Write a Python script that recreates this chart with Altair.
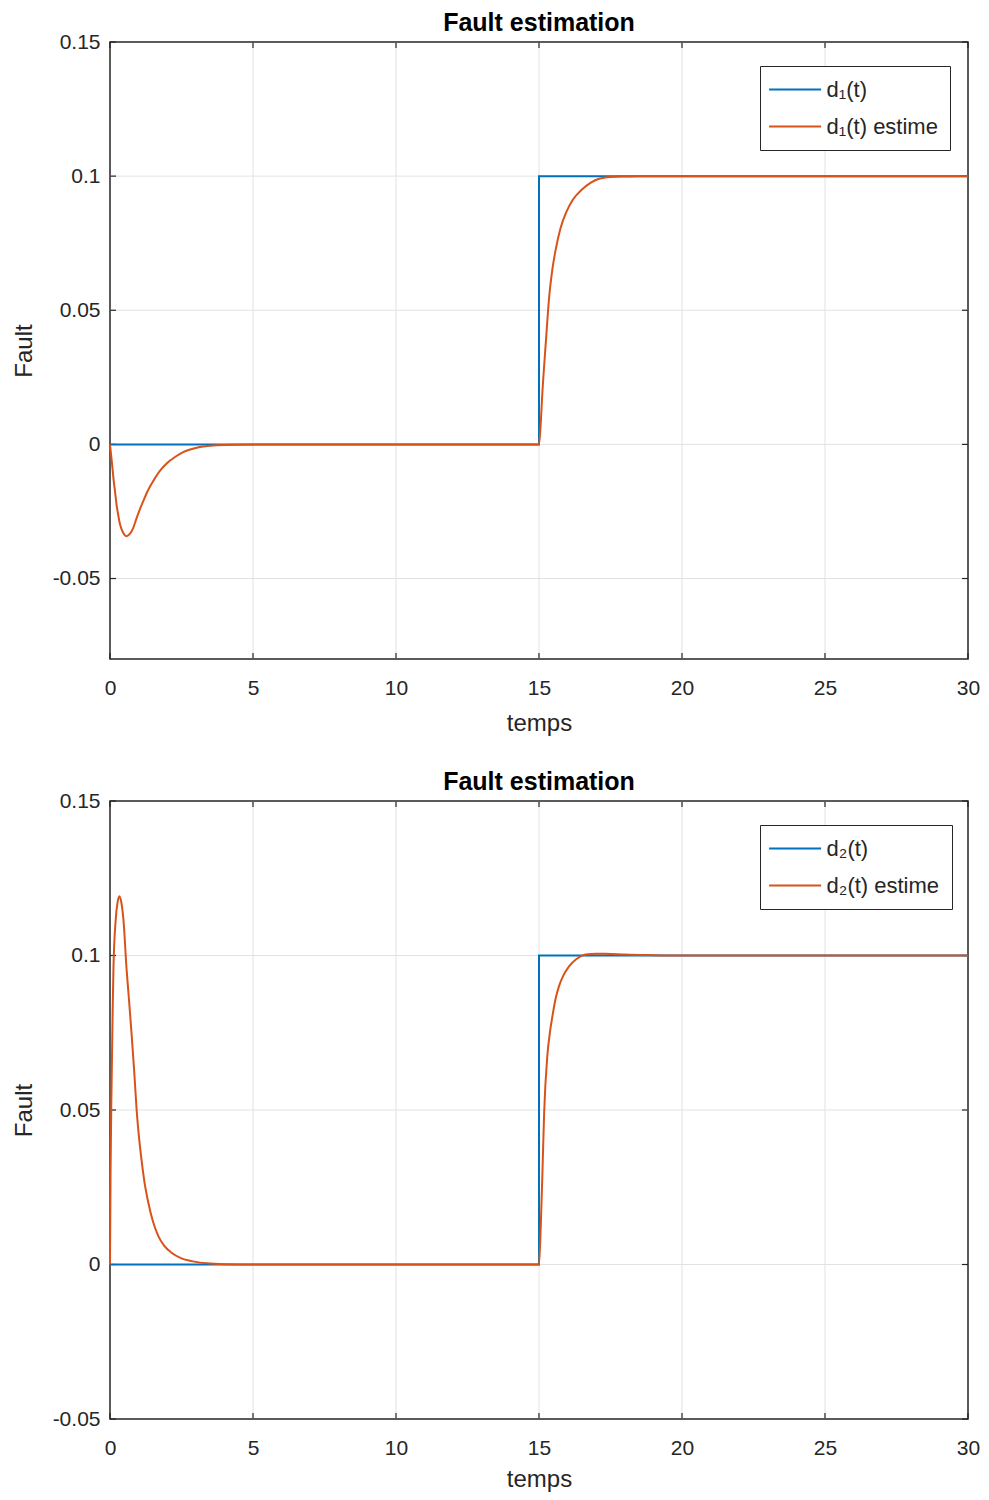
import altair as alt
import pandas as pd

FONT = "Liberation Sans"

# ---- data ----
x_ticks = [0, 5, 10, 15, 20, 25, 30]
y_ticks = [-0.05, 0, 0.05, 0.1, 0.15]
x_domain = [0, 30]
y_domain_top = [-0.08, 0.15]
y_domain_bot = [-0.05, 0.15]

labels_top = ["d\u2081(t)", "d\u2081(t) estime"]
labels_bot = ["d\u2082(t)", "d\u2082(t) estime"]
colors = ["#0072BD", "#D95319"]

t_true1 = [0, 15, 15, 30]
v_true1 = [0, 0, 0.1, 0.1]
t_est1 = [0.0, 0.06, 0.12, 0.18, 0.23, 0.29, 0.35, 0.41, 0.5, 0.58, 0.7, 0.81,
          0.93, 1.05, 1.17, 1.28, 1.4, 1.51, 1.75, 1.98, 2.3, 2.56, 3.14, 3.72,
          5.0, 15.0, 15.05, 15.12, 15.24, 15.35, 15.47, 15.6, 15.75, 15.95, 16.2,
          16.5, 16.8, 17.1, 17.5, 18.0, 18.5, 30.0]
v_est1 = [0.0, -0.006, -0.0126, -0.018, -0.0225, -0.0265, -0.0298, -0.0318,
          -0.0336, -0.0342, -0.0333, -0.0312, -0.0275, -0.024, -0.021, -0.0182,
          -0.0157, -0.0137, -0.0098, -0.0071, -0.0045, -0.0029, -0.001, -0.0003,
          0.0, 0.0, 0.006, 0.0196, 0.0382, 0.0543, 0.0654, 0.0735, 0.0805,
          0.0865, 0.0915, 0.095, 0.0975, 0.099, 0.0997, 0.0999, 0.1, 0.1]

t_true2 = [0, 15, 15, 30]
v_true2 = [0, 0, 0.1, 0.1]
t_est2 = [0.0, 0.02, 0.05, 0.09, 0.12, 0.2, 0.27, 0.33, 0.4, 0.47, 0.58, 0.67,
          0.76, 0.85, 0.93, 1.0, 1.1, 1.2, 1.34, 1.5, 1.69, 1.9, 2.15, 2.5, 2.85,
          3.5, 4.5, 15.0, 15.06, 15.12, 15.18, 15.29, 15.38, 15.47, 15.58, 15.7,
          15.85, 16.05, 16.3, 16.63, 17.0, 17.33, 18.0, 19.0, 20.0, 30.0]
v_est2 = [0.0, 0.03, 0.055, 0.08, 0.0955, 0.1116, 0.1175, 0.1192, 0.117, 0.1116,
          0.0955, 0.085, 0.0739, 0.062, 0.0502, 0.0425, 0.034, 0.027, 0.020, 0.014,
          0.0092, 0.006, 0.0038, 0.002, 0.0011, 0.0003, 0.0, 0.0, 0.012, 0.0297,
          0.0491, 0.0674, 0.075, 0.0804, 0.086, 0.0901, 0.0935, 0.0965, 0.0988,
          0.1003, 0.1006, 0.1006, 0.1003, 0.1001, 0.1, 0.1]

W = 858
TICK = 6
FRAME = "#262626"
GRID = "#e2e2e2"


def panel(t_true, v_true, t_est, v_est, labels, ydom, H, xtitle_pad):
    xs = alt.Scale(domain=x_domain, nice=False, zero=False)
    ys = alt.Scale(domain=ydom, nice=False, zero=False)
    cs = alt.Scale(domain=labels, range=colors)

    df_true = pd.DataFrame({"t": t_true, "v": v_true, "s": labels[0],
                            "i": list(range(len(t_true)))})
    df_est = pd.DataFrame({"t": t_est, "v": v_est, "s": labels[1],
                           "i": list(range(len(t_est)))})

    xt = [v for v in x_ticks if x_domain[0] <= v <= x_domain[1]]
    yt = [v for v in y_ticks if ydom[0] <= v <= ydom[1]]
    xg = pd.DataFrame({"t": [v for v in xt if x_domain[0] < v < x_domain[1]]})
    yg = pd.DataFrame({"v": [v for v in yt if ydom[0] < v < ydom[1]]})
    xtd = pd.DataFrame({"t": xt})
    ytd = pd.DataFrame({"v": yt})

    xaxis = alt.Axis(values=xt, grid=False, ticks=False, domain=False,
                     labelFontSize=21, labelFont=FONT, labelColor=FRAME,
                     labelPadding=18, labelFlush=False,
                     title="temps", titleFont=FONT, titleFontSize=24,
                     titleFontWeight="normal", titleColor=FRAME,
                     titlePadding=xtitle_pad)
    yaxis = alt.Axis(values=yt, grid=False, ticks=False, domain=False,
                     labelFontSize=21, labelFont=FONT, labelColor=FRAME,
                     labelPadding=10, labelFlush=False,
                     labelExpr="'' + datum.value",
                     title="Fault", titleFont=FONT, titleFontSize=24,
                     titleFontWeight="normal", titleColor=FRAME, titlePadding=16)

    X = alt.X("t:Q", scale=xs, title="temps")
    Y = alt.Y("v:Q", scale=ys, title="Fault")

    gx = alt.Chart(xg).mark_rule(color=GRID, strokeWidth=1).encode(x=X)
    gy = alt.Chart(yg).mark_rule(color=GRID, strokeWidth=1).encode(y=Y)

    legend = alt.Legend(title=None, orient="none", legendX=650, legendY=24,
                        symbolType="M-2.5,0H2.5", symbolSize=433,
                        symbolStrokeWidth=2, labelFontSize=22, labelFont=FONT,
                        labelColor=FRAME, padding=12, rowPadding=14,
                        symbolOffset=11.6, labelOffset=20, strokeColor=FRAME,
                        fillColor="white", labelLimit=400)

    true_line = alt.Chart(df_true).mark_line(strokeWidth=2).encode(
        x=alt.X("t:Q", scale=xs, axis=xaxis),
        y=alt.Y("v:Q", scale=ys, axis=yaxis),
        color=alt.Color("s:N", scale=cs, legend=legend),
        order="i:Q",
    )
    est_line = alt.Chart(df_est).mark_line(strokeWidth=2, interpolate="monotone").encode(
        x=X, y=Y,
        color=alt.Color("s:N", scale=cs, legend=legend),
        order="i:Q",
    )

    tb = alt.Chart(xtd).mark_rule(color=FRAME, strokeWidth=1.2).encode(
        x=X, y=alt.value(H), y2=alt.value(H - TICK))
    tt = alt.Chart(xtd).mark_rule(color=FRAME, strokeWidth=1.2).encode(
        x=X, y=alt.value(0), y2=alt.value(TICK))
    tl = alt.Chart(ytd).mark_rule(color=FRAME, strokeWidth=1.2).encode(
        y=Y, x=alt.value(0), x2=alt.value(TICK))
    tr = alt.Chart(ytd).mark_rule(color=FRAME, strokeWidth=1.2).encode(
        y=Y, x=alt.value(W), x2=alt.value(W - TICK))

    return alt.layer(gx, gy, tb, tt, tl, tr, true_line, est_line).properties(
        width=W, height=H,
        title=alt.TitleParams("Fault estimation", font=FONT, fontSize=25,
                              fontWeight="bold", color="black", offset=-5,
                              anchor="middle"),
    )


top = panel(t_true1, v_true1, t_est1, v_est1, labels_top, y_domain_top, 617, 13)
bot = panel(t_true2, v_true2, t_est2, v_est2, labels_bot, y_domain_bot, 618, 9)

chart = alt.vconcat(top, bot, spacing=33).resolve_scale(
    x="independent", y="independent", color="independent"
).properties(
    padding={"left": 3, "top": 2, "right": 0, "bottom": 0},
    background="white",
).configure_view(stroke=FRAME, strokeWidth=1.5)

chart.save("out.html", embed_options={"renderer": "svg", "actions": False})
